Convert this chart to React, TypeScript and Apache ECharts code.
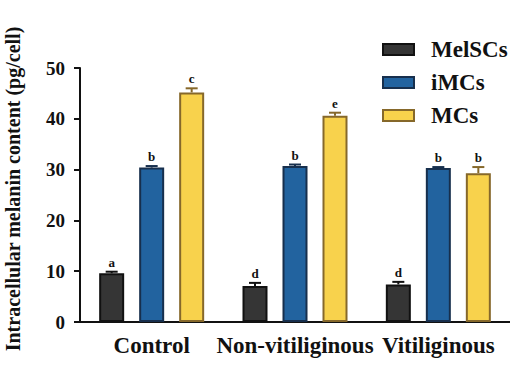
import React, { useEffect, useRef } from "react";
import * as echarts from "echarts";

const categories = ["Control", "Non-vitiliginous", "Vitiliginous"];
const seriesNames = ["MelSCs", "iMCs", "MCs"];
const melSCs = [9.6, 7.1, 7.4];
const iMCs = [30.4, 30.7, 30.3];
const mcs = [45.2, 40.6, 29.3];
const melSCsErr = [0.3, 0.6, 0.5];
const iMCsErr = [0.3, 0.3, 0.2];
const mcsErr = [0.8, 0.6, 1.2];
const melSCsLetters = ["a", "d", "d"];
const iMCsLetters = ["b", "b", "b"];
const mcsLetters = ["c", "e", "b"];
const yTicks = [0, 10, 20, 30, 40, 50];
const yTitle = "Intracellular melanin content (pg/cell)";

const values = [melSCs, iMCs, mcs];
const errors = [melSCsErr, iMCsErr, mcsErr];
const letters = [melSCsLetters, iMCsLetters, mcsLetters];
const fills = ["#353535", "#22639f", "#f8d24c"];
const borders = ["#111111", "#172f4d", "#86682a"];
const FONT = "Liberation Serif";

export default function App() {
  const ref = useRef<HTMLDivElement>(null);
  useEffect(() => {
    if (!ref.current) return;
    const chart = echarts.init(ref.current, undefined, { renderer: "svg" });
    const barSeries = seriesNames.map((name, si) => ({
      name,
      type: "bar",
      data: values[si],
      barWidth: 25,
      barGap: "60%",
      itemStyle: { color: fills[si], borderColor: borders[si], borderWidth: 2 },
      z: 2,
    }));
    const errData: number[][] = [];
    seriesNames.forEach((_, si) => {
      categories.forEach((_, ci) => {
        errData.push([ci, values[si][ci], errors[si][ci], si]);
      });
    });
    const errSeries = {
      type: "custom",
      name: "err",
      data: errData,
      z: 3,
      renderItem: (params: any, api: any) => {
        const ci = api.value(0);
        const v = api.value(1);
        const e = api.value(2);
        const si = api.value(3);
        const base = api.coord([ci, v]);
        const top = api.coord([ci, v + e]);
        const x = base[0] + (si - 1) * 40;
        const color = borders[si];
        const letter = letters[si][ci];
        return {
          type: "group",
          children: [
            { type: "line", shape: { x1: x, y1: base[1], x2: x, y2: top[1] }, style: { stroke: color, lineWidth: 2 } },
            { type: "line", shape: { x1: x - 6, y1: top[1], x2: x + 6, y2: top[1] }, style: { stroke: color, lineWidth: 2 } },
            {
              type: "text",
              x,
              y: top[1] - 3,
              style: {
                text: letter,
                fill: "#111",
                font: `bold 13px "${FONT}"`,
                align: "center",
                verticalAlign: "bottom",
              },
            },
          ],
        };
      },
    };
    chart.setOption({
      animation: false,
      grid: { left: 80, right: -8, top: 68, bottom: 51, containLabel: false },
      legend: {
        data: seriesNames,
        orient: "vertical",
        left: 377,
        top: 33,
        itemWidth: 31,
        itemHeight: 11,
        itemGap: 10,
        icon: "rect",
        textStyle: {
          fontFamily: FONT,
          fontWeight: "bold",
          fontSize: 23,
          lineHeight: 23,
          color: "#111",
          padding: [0, 0, 0, 12],
        },
      },
      graphic: [
        {
          type: "text",
          x: 13,
          y: 189,
          rotation: Math.PI / 2,
          style: {
            text: yTitle,
            fill: "#111",
            font: `bold 20px "${FONT}"`,
            align: "center",
            verticalAlign: "middle",
          },
        },
      ],
      xAxis: {
        type: "category",
        data: categories,
        axisLine: { lineStyle: { color: "#111", width: 2 } },
        axisTick: { alignWithLabel: true, length: 6, lineStyle: { color: "#111", width: 2 } },
        axisLabel: { fontFamily: FONT, fontWeight: "bold", fontSize: 23, color: "#111", margin: 12, interval: 0 },
      },
      yAxis: {
        type: "value",
        min: yTicks[0],
        max: yTicks[yTicks.length - 1],
        interval: 10,
        axisLine: { show: true, lineStyle: { color: "#111", width: 2 } },
        axisTick: { show: true, length: 6, lineStyle: { color: "#111", width: 2 } },
        axisLabel: { fontFamily: FONT, fontWeight: "bold", fontSize: 19, color: "#111", margin: 15 },
        splitLine: { show: false },
      },
      series: [...barSeries, errSeries],
    });
    return () => chart.dispose();
  }, []);
  return <div ref={ref} style={{ width: 510, height: 373, position: "absolute", left: 0, top: 0 }} />;
}
